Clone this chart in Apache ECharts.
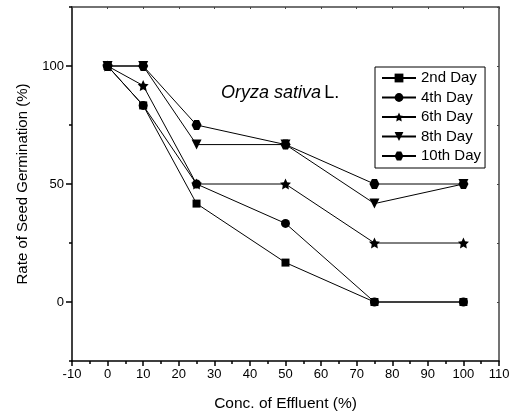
<!DOCTYPE html>
<html>
<head>
<meta charset="utf-8">
<script src="https://cdn.jsdelivr.net/npm/echarts@6/dist/echarts.min.js"></script>
<style>
  html, body { margin: 0; padding: 0; background: #fff; }
  #main { width: 515px; height: 417px; }
</style>
</head>
<body>
<div id="main"></div>
<script>
var myChart = echarts.init(document.getElementById('main'));

// concentration of effluent (%)
const conc = [0, 10, 25, 50, 75, 100];

const day2 = [100, 83.3, 41.7, 16.7, 0, 0];
const day4 = [100, 83.3, 50, 33.3, 0, 0];
const day6 = [100, 91.7, 50, 50, 25, 25];
const day8 = [100, 100, 66.7, 66.7, 41.7, 50];
const day10 = [100, 100, 75, 66.7, 50, 50];

const seriesNames = ['2nd Day', '4th Day', '6th Day', '8th Day', '10th Day'];
const yLabels = [0, 50, 100];

const starPath = 'path://M0,-10L2.9,-4L9.5,-3.1L4.7,1.5L5.9,8.1L0,5L-5.9,8.1L-4.7,1.5L-9.5,-3.1L-2.9,-4Z';
const hexPath = 'path://M-5,-8.66L5,-8.66L10,0L5,8.66L-5,8.66L-10,0Z';

function pairs(ys) {
  return conc.map(function (x, i) { return [x, ys[i]]; });
}

function mkSeries(name, ys, symbol, size, rotate) {
  return {
    name: name,
    type: 'line',
    data: pairs(ys),
    symbol: symbol,
    symbolSize: size,
    symbolRotate: rotate || 0,
    showSymbol: true,
    animation: false,
    lineStyle: { color: '#000', width: 1 },
    itemStyle: { color: '#000' },
    emphasis: { disabled: true }
  };
}

const font = 'Liberation Sans, Arial, sans-serif';

const option = {
  backgroundColor: '#fff',
  textStyle: { fontFamily: font },
  grid: { left: 72, right: 16, top: 7, bottom: 55 },
  legend: {
    data: seriesNames,
    orient: 'vertical',
    left: 375,
    top: 67,
    padding: [3, 4, 4, 6],
    itemGap: 3.5,
    itemWidth: 34,
    itemHeight: 11,
    borderColor: '#000',
    borderWidth: 1,
    textStyle: { fontSize: 15, lineHeight: 16, color: '#000', fontFamily: font }
  },
  xAxis: [
    {
      type: 'value',
      min: -10, max: 110, interval: 10,
      name: 'Conc. of Effluent (%)',
      nameLocation: 'middle',
      nameGap: 35,
      nameTextStyle: { fontSize: 15.5, color: '#000', fontFamily: font },
      axisLine: { onZero: false, lineStyle: { color: '#000', width: 1.5 } },
      axisTick: { length: 5, lineStyle: { color: '#000', width: 1.5 } },
      minorTick: { show: true, splitNumber: 2, length: 3, lineStyle: { color: '#000', width: 1.5 } },
      axisLabel: { fontSize: 13, color: '#000', margin: 7, fontFamily: font },
      splitLine: { show: false }
    },
    {
      type: 'value',
      position: 'top',
      min: -10, max: 110, interval: 10,
      axisLine: { onZero: false, lineStyle: { color: '#444', width: 1.5 } },
      axisTick: { inside: true, length: 2, lineStyle: { color: '#444' } },
      axisLabel: { show: false },
      splitLine: { show: false }
    }
  ],
  yAxis: [
    {
      type: 'value',
      min: -25, max: 125, interval: 25,
      name: 'Rate of Seed Germination (%)',
      nameLocation: 'middle',
      nameGap: 42,
      nameTextStyle: { fontSize: 15, color: '#000', fontFamily: font },
      axisLine: { show: true, onZero: false, lineStyle: { color: '#000', width: 1.5 } },
      axisTick: { show: true, length: 3, lineStyle: { color: '#000', width: 1.5 } },
      axisLabel: {
        fontSize: 13, color: '#000', margin: 8, fontFamily: font,
        formatter: function (v) { return yLabels.indexOf(v) >= 0 ? String(v) : ''; }
      },
      splitLine: { show: false }
    },
    {
      type: 'value',
      position: 'left',
      min: -25, max: 125,
      axisLine: { show: false, onZero: false },
      axisTick: { show: true, length: 6, customValues: yLabels, lineStyle: { color: '#000', width: 1.5 } },
      axisLabel: { show: false, customValues: yLabels },
      splitLine: { show: false }
    },
    {
      type: 'value',
      position: 'right',
      min: -25, max: 125, interval: 25,
      axisLine: { show: true, onZero: false, lineStyle: { color: '#444', width: 1.5 } },
      axisTick: { show: true, inside: true, length: 2, lineStyle: { color: '#444' } },
      axisLabel: { show: false },
      splitLine: { show: false }
    }
  ],
  graphic: [
    {
      type: 'text',
      left: 221,
      top: 84,
      style: {
        text: '{i|Oryza sativa} {n|L.}',
        rich: {
          i: { fontSize: 18, fontStyle: 'italic', fontFamily: font, fill: '#000' },
          n: { fontSize: 18, fontFamily: font, fill: '#000' }
        }
      }
    }
  ],
  series: [
    mkSeries('2nd Day', day2, 'rect', 8),
    mkSeries('4th Day', day4, 'circle', 9),
    mkSeries('6th Day', day6, starPath, 11),
    mkSeries('8th Day', day8, 'triangle', 10, 180),
    mkSeries('10th Day', day10, hexPath, 10)
  ]
};

myChart.setOption(option);
</script>
</body>
</html>
